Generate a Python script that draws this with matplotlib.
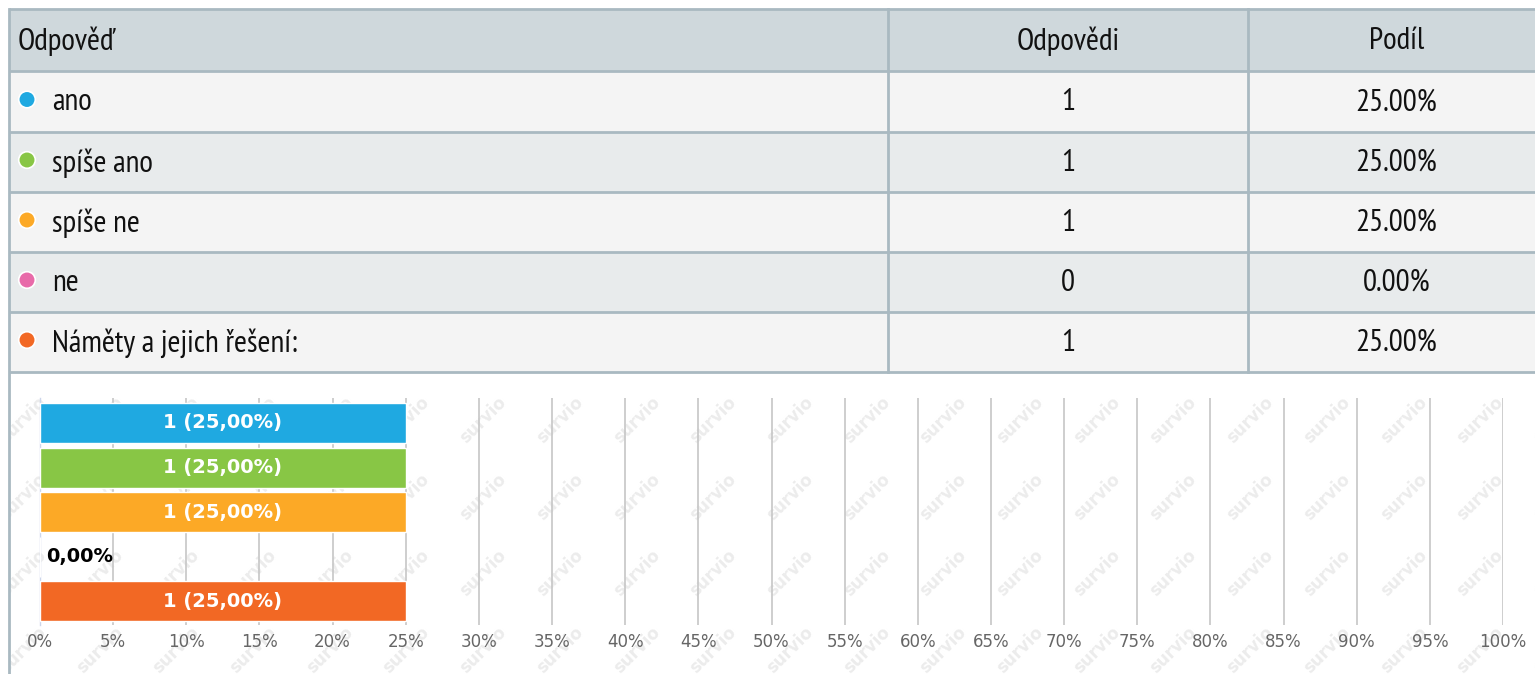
import matplotlib
matplotlib.use("Agg")
import matplotlib.pyplot as plt
from matplotlib import font_manager as fm
from matplotlib.patches import Rectangle, Circle

# ---- data ----
categories = ["ano", "spíše ano", "spíše ne", "ne", "Náměty a jejich řešení:"]
counts = [1, 1, 1, 0, 1]
shares = [25.0, 25.0, 25.0, 0.0, 25.0]
colors = ["#1fa9e1", "#88c645", "#fca926", "#e86aa9", "#f26824"]
header = ["Odpověď", "Odpovědi", "Podíl"]
xticks = list(range(0, 101, 5))

W, H = 1535, 674
names = {f.name for f in fm.fontManager.ttflist}
table_font = "DejaVu Sans"
for cand in ["PT Sans Narrow", "Ubuntu Condensed", "Roboto Condensed", "Fira Sans Condensed",
             "Archivo Narrow", "Liberation Sans Narrow", "Roboto"]:
    if cand in names:
        table_font = cand
        break
tfam = [table_font, "DejaVu Sans"]

fig = plt.figure(figsize=(W / 100, H / 100), dpi=100)
bg = fig.add_axes([0, 0, 1, 1])
bg.set_xlim(0, W)
bg.set_ylim(H, 0)
bg.axis("off")

# background watermark pattern, as in the reference
for j in range(-1, 4):
    for k in range(0, 21):
        x = 23 + 76.7 * k
        y = 420 + 76.7 * j
        bg.text(x, y, "survio", rotation=45, ha="center", va="center",
                fontsize=12, fontweight="bold", color="#ececec", zorder=0)

# table
border = "#a9b9c1"
left, right = 9, 1545
col1, col2 = 888, 1248
row_edges = [9, 71, 132, 192, 252, 312, 372]
bg.add_patch(Rectangle((0, 0), W, row_edges[0], facecolor="white", edgecolor="none", zorder=2))
bg.add_patch(Rectangle((left, row_edges[0]), right - left, row_edges[1] - row_edges[0],
                       facecolor="#cfd8dc", edgecolor="none", zorder=2))
row_bg = ["#f4f4f4", "#e8ebec"]
for i in range(len(categories)):
    bg.add_patch(Rectangle((left, row_edges[i + 1]), right - left,
                           row_edges[i + 2] - row_edges[i + 1],
                           facecolor=row_bg[i % 2], edgecolor="none", zorder=2))
bg.add_patch(Rectangle((0, 0), left, H, facecolor="white", edgecolor="none", zorder=2))
for yv in row_edges:
    bg.plot([left, right], [yv, yv], color=border, lw=2, zorder=3, solid_capstyle="butt")
for xv in [col1, col2]:
    bg.plot([xv, xv], [row_edges[0], row_edges[-1]], color=border, lw=2, zorder=3)
bg.plot([left, left], [row_edges[0], H], color=border, lw=2, zorder=3)

fs = 22.5
c1 = (col1 + col2) / 2
c2 = (col2 + right) / 2
hy = (row_edges[0] + row_edges[1]) / 2
bg.text(18, hy + 1, header[0], ha="left", va="center", fontsize=fs, family=tfam, color="#111111", zorder=4)
bg.text(c1, hy + 1, header[1], ha="center", va="center", fontsize=fs, family=tfam, color="#111111", zorder=4)
bg.text(c2, hy + 1, header[2], ha="center", va="center", fontsize=fs, family=tfam, color="#111111", zorder=4)
for i, (cat, cnt, sh, col) in enumerate(zip(categories, counts, shares, colors)):
    yc = (row_edges[i + 1] + row_edges[i + 2]) / 2
    bg.add_patch(Circle((27, yc - 2), 8.3, facecolor=col, edgecolor="white", lw=1.2, zorder=4))
    bg.text(52, yc + 1, cat, ha="left", va="center", fontsize=fs, family=tfam, color="#111111", zorder=4)
    bg.text(c1, yc + 1, str(cnt), ha="center", va="center", fontsize=fs, family=tfam, color="#111111", zorder=4)
    bg.text(c2, yc + 1, f"{sh:.2f}%", ha="center", va="center", fontsize=fs, family=tfam, color="#111111", zorder=4)

# chart
x0, x100 = 40, 1503
ytop, ybot = 398, 625
ax = fig.add_axes([x0 / W, 1 - ybot / H, (x100 - x0) / W, (ybot - ytop) / H], zorder=5)
ax.patch.set_alpha(0)
ypos = list(range(len(categories)))
ax.barh(ypos, shares, height=0.9, color=colors, edgecolor="white", linewidth=1, zorder=3)
ax.set_xlim(0, 100)
ax.set_ylim(4.53, -0.56)
ax.set_xticks(xticks)
ax.set_xticklabels([f"{t}%" for t in xticks], color="#666666", fontsize=12)
ax.tick_params(axis="x", length=0, pad=6)
ax.set_yticks([])
for t in xticks[1:]:
    ax.axvline(t, color="#c6c6c6", lw=1.2, zorder=1)
for s in ["top", "right", "bottom"]:
    ax.spines[s].set_visible(False)
ax.spines["left"].set_color("#ccd6eb")
ax.spines["left"].set_linewidth(1)

for yi, cnt, sh in zip(ypos, counts, shares):
    if cnt > 0:
        lbl = f"{cnt} ({sh:.2f}%)".replace(".", ",")
        ax.text(sh / 2, yi, lbl, ha="center", va="center", color="white",
                fontsize=14, fontweight="bold", zorder=4)
    else:
        lbl = f"{sh:.2f}%".replace(".", ",")
        ax.text(0.4, yi, lbl, ha="left", va="center", color="black",
                fontsize=14, fontweight="bold", zorder=4)

fig.savefig("out.png", dpi=100)
